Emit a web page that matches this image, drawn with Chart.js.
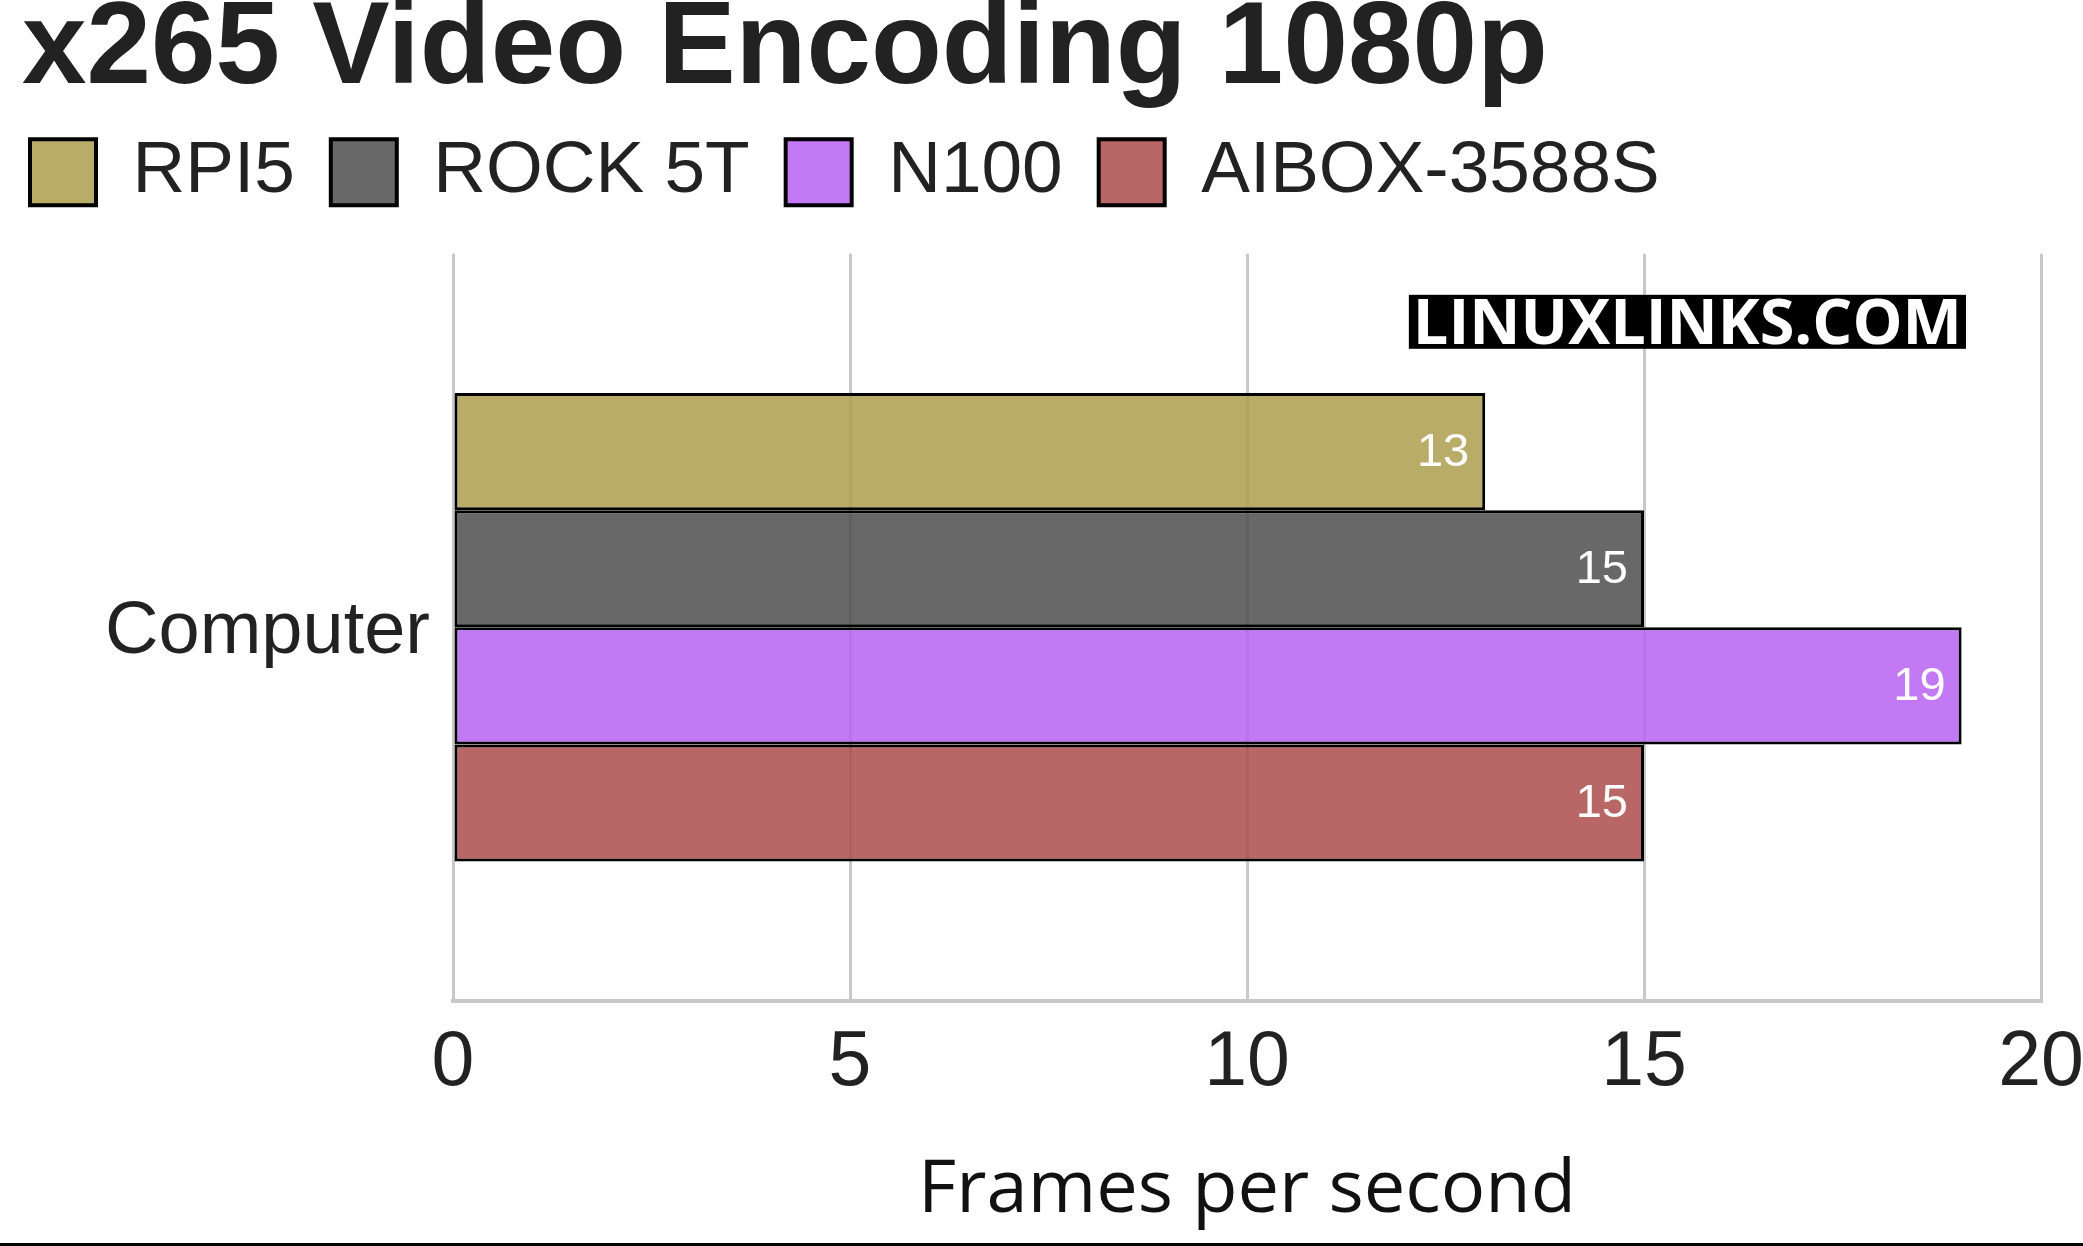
<!DOCTYPE html>
<html><head><meta charset="utf-8">
<script src="https://cdn.jsdelivr.net/npm/chart.js@4.4.1/dist/chart.umd.min.js"></script>
<style>html,body{margin:0;padding:0;background:#fff;}canvas{display:block}</style>
</head><body>
<canvas id="c" width="2083" height="1246"></canvas>
<script>
// ---- data ----
const categories = ['Computer'];
const seriesNames = ['RPI5', 'ROCK 5T', 'N100', 'AIBOX-3588S'];
const rpi5Values = [13];
const rock5tValues = [15];
const n100Values = [19];
const aiboxValues = [15];
const xTickValues = [0, 5, 10, 15, 20];
const chartTitle = 'x265 Video Encoding 1080p';
const xAxisTitle = 'Frames per second';
const watermarkText = 'LINUXLINKS.COM';

// ---- styles ----
const fills = ['rgba(173,157,77,0.85)', 'rgba(77,77,77,0.85)', 'rgba(186,97,242,0.85)', 'rgba(172,75,75,0.85)'];
const seriesValues = [rpi5Values, rock5tValues, n100Values, aiboxValues];

Chart.defaults.font.family = "'Liberation Sans', Arial, sans-serif";
Chart.defaults.color = '#222';

const decor = {
  id: 'decor',
  afterInit(chart) {
    const L = chart.legend;
    if (L) {
      const f = L.fit;
      L.fit = function () { f.call(this); this.height += 35; };
      const d = L.draw;
      L.draw = function () { const l = this.left; this.left = l - 28; d.call(this); this.left = l; };
    }
  },
  afterDatasetsDraw(chart) {
    const ctx = chart.ctx;
    ctx.save();
    ctx.font = "47px 'Liberation Sans', Arial, sans-serif";
    ctx.fillStyle = '#fff';
    ctx.textAlign = 'right';
    ctx.textBaseline = 'middle';
    chart.data.datasets.forEach((ds, i) => {
      const meta = chart.getDatasetMeta(i);
      meta.data.forEach((el, j) => {
        ctx.fillText(String(ds.data[j]), el.x - 16, el.y + 1);
      });
    });
    ctx.restore();
  },
  afterDraw(chart) {
    const ctx = chart.ctx;
    const a = chart.chartArea;
    ctx.save();
    // watermark
    ctx.font = "bold 63px 'Open Sans', sans-serif";
    const w = ctx.measureText(watermarkText).width;
    const right = a.right - 75;
    const top = a.top + 41;
    const boxW = w + 8;
    ctx.fillStyle = '#000';
    ctx.fillRect(right - boxW, top, boxW, 54);
    ctx.fillStyle = '#fff';
    ctx.textAlign = 'left';
    ctx.textBaseline = 'alphabetic';
    ctx.fillText(watermarkText, right - boxW + 4, top + 49);
    // bottom rule
    ctx.fillStyle = '#000';
    ctx.fillRect(0, chart.height - 3, chart.width, 3);
    ctx.restore();
  }
};

new Chart(document.getElementById('c'), {
  type: 'bar',
  data: {
    labels: categories,
    datasets: seriesNames.map((name, i) => ({
      label: name,
      data: seriesValues[i],
      backgroundColor: fills[i],
      borderColor: '#000',
      borderWidth: 3,
      borderSkipped: false,
      categoryPercentage: 0.627,
      barPercentage: 1.0
    }))
  },
  options: {
    indexAxis: 'y',
    responsive: false,
    animation: false,
    devicePixelRatio: 1,
    layout: { padding: { left: 22, right: 0, top: 0, bottom: 8 } },
    plugins: {
      tooltip: { enabled: false },
      title: {
        display: true,
        text: chartTitle,
        align: 'start',
        color: '#222',
        font: { size: 116, weight: 'bold', lineHeight: 0.8 },
        padding: { top: 5, bottom: 2 }
      },
      legend: {
        display: true,
        align: 'start',
        labels: {
          boxWidth: 66,
          boxHeight: 66,
          padding: 36,
          color: '#222',
          font: { size: 73 },
          generateLabels(chart) {
            const items = Chart.defaults.plugins.legend.labels.generateLabels(chart);
            items.forEach(it => { it.lineWidth = 4; it.strokeStyle = '#000'; });
            return items;
          }
        }
      }
    },
    scales: {
      x: {
        type: 'linear',
        min: xTickValues[0],
        max: xTickValues[xTickValues.length - 1],
        afterBuildTicks(scale) { scale.ticks = xTickValues.map(v => ({ value: v })); },
        afterFit(scale) { scale.paddingRight = 42; },
        grid: { color: '#c8c8c8', lineWidth: 3, drawTicks: false },
        border: { color: '#c8c8c8', width: 4 },
        ticks: { color: '#222', font: { size: 77, lineHeight: 1.2 }, padding: 17 },
        title: {
          display: true,
          text: xAxisTitle,
          color: '#111',
          font: { family: "'Open Sans', sans-serif", size: 74, lineHeight: 1.2 },
          padding: { top: 19, bottom: 3 }
        }
      },
      y: {
        grid: { display: false, drawTicks: false },
        border: { display: false },
        ticks: { color: '#222', font: { size: 74 }, padding: 23, labelOffset: 5 },
        afterFit(scale) { scale.width = 431; }
      }
    }
  },
  plugins: [decor]
});
</script>
</body></html>
